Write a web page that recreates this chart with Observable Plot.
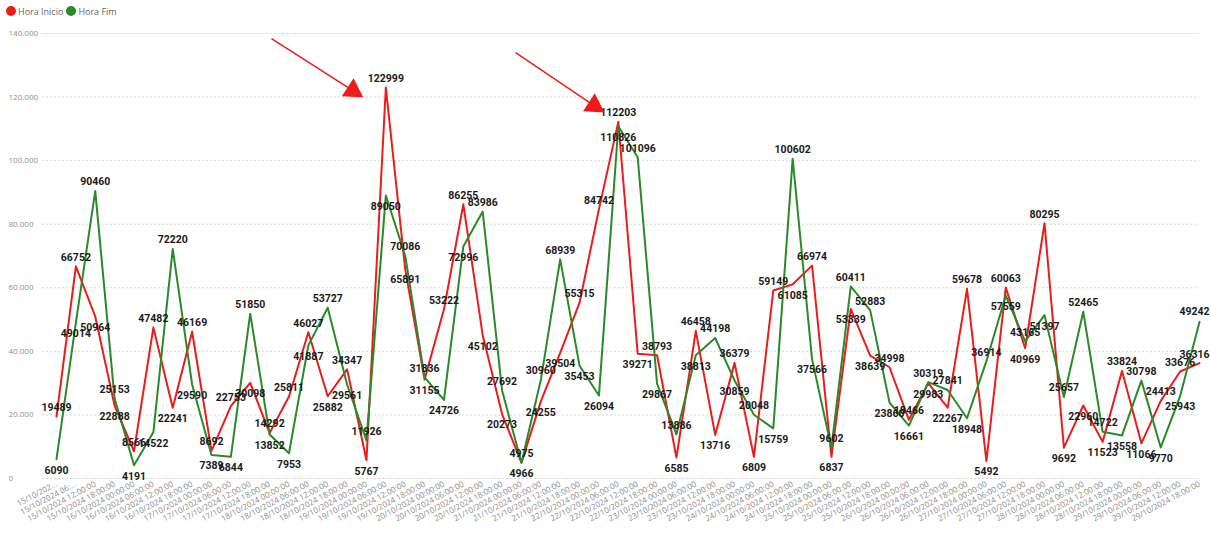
<!DOCTYPE html>
<html><head><meta charset="utf-8">
<script src="https://cdn.jsdelivr.net/npm/d3@7"></script>
<script src="https://cdn.jsdelivr.net/npm/@observablehq/plot@0.6"></script>
<style>
body{margin:0;background:#fff;font-family:"Open Sans",sans-serif;}
#legend{height:22px;display:flex;align-items:center;padding-left:6px;font-size:9px;color:#666;}
.item{display:flex;align-items:center;margin-right:3px}
.sw{width:10px;height:10px;border-radius:50%;margin-right:2px}
</style></head><body>
<div id="legend"></div><div id="chart"></div>
<script>
const days = ["15/10/2024","16/10/2024","17/10/2024","18/10/2024","19/10/2024","20/10/2024","21/10/2024","22/10/2024","23/10/2024","24/10/2024","25/10/2024","26/10/2024","27/10/2024","28/10/2024","29/10/2024"];
const hours = ["00:00:00","06:00:00","12:00:00","18:00:00"];
const series = ["Hora Inicio","Hora Fim"];
const colors = ["#ee1b1b","#2a8a2a"];
const horaInicio = [19489,66752,50964,22888,8566,47482,22241,46169,8692,22753,30098,14292,25811,46027,25882,34347,5767,122999,65891,31155,53222,86255,45102,20273,4975,24255,39504,55315,84742,112203,39271,38793,6585,46458,13716,36379,6809,59149,61085,66974,6837,53339,38639,34998,18466,29983,22267,59678,5492,60063,40969,80295,9692,22960,11523,33824,11066,24413,33676,36316];
const horaFim = [6090,49014,90460,25153,4191,14522,72220,29590,7389,6844,51850,13852,7953,41887,53727,29561,11926,89050,70086,31836,24726,72996,83986,27692,4966,30960,68939,35453,26094,110826,101096,29867,13886,38813,44198,30859,20048,15759,100602,37566,9602,60411,52883,23860,16661,30319,27841,18948,36914,57559,43165,51397,25657,52465,14722,13558,30798,9770,25943,49242];
const yTicks = [0,20000,40000,60000,80000,100000,120000,140000];
// annotation arrows (data coordinates: index, value)
const arrowStart = [[11.1,138400],[23.7,134000]];
const arrowHead = [[15.3,122000],[27.75,117300]];

const xLabels = days.flatMap(d => hours.map(h => d + " " + h));
xLabels[0] = "15/10/202...";
xLabels[1] = "15/10/2024 06:...";

const legend = document.getElementById("legend");
series.forEach((s,k)=>{
  const it = document.createElement("div"); it.className="item";
  it.innerHTML = `<span class="sw" style="background:${colors[k]}"></span><span>${s}</span>`;
  legend.appendChild(it);
});

const idx = d3.range(horaInicio.length);
const last = idx.length - 1;
const rows = idx.flatMap(i => [
  {i, v: horaInicio[i], s: series[0], above: horaInicio[i] >= horaFim[i]},
  {i, v: horaFim[i], s: series[1], above: horaFim[i] > horaInicio[i]}
]);
const fmt = d3.formatLocale({decimal:",", thousands:".", grouping:[3], currency:["",""]}).format(",d");
const arrows = arrowStart.map((a,k)=>({x1:a[0], y1:a[1], x2:arrowHead[k][0], y2:arrowHead[k][1]}));

const labelStyle = {x:"i", y:"v", text: d => String(d.v), fill:"#1a1a1a", fontWeight:"bold", fontSize:10.5, fontFamily:"Roboto"};
const mid = rows.filter(d => d.i !== last);
const end = rows.filter(d => d.i === last);

const chart = Plot.plot({
  width:1211, height:519, marginTop:11, marginBottom:63, marginLeft:56, marginRight:12,
  x:{domain:[0, last]},
  y:{domain:[0,140000]},
  color:{domain:series, range:colors},
  style:{fontFamily:"Open Sans", background:"#fff"},
  marks:[
    Plot.gridY(yTicks,{stroke:"#d8d8d8", strokeOpacity:1, strokeDasharray:"2,2", insetLeft:-14}),
    Plot.axisY(yTicks,{tickSize:0, tickPadding:48, textAnchor:"start", tickFormat: fmt, fontSize:8, fill:"#8f8f8f"}),
    Plot.axisX(idx,{tickSize:0, tickPadding:5, tickRotate:-28, tickFormat: i => xLabels[i], fontSize:8, fill:"#8a8a8a"}),
    Plot.line(rows,{x:"i", y:"v", stroke:"s", z:"s", strokeWidth:2}),
    Plot.text(mid.filter(d=>d.above), {...labelStyle, dy:-9}),
    Plot.text(mid.filter(d=>!d.above), {...labelStyle, dy:11}),
    Plot.text(end.filter(d=>d.above), {...labelStyle, dy:-10, dx:10, textAnchor:"end"}),
    Plot.text(end.filter(d=>!d.above), {...labelStyle, dy:-8, dx:10, textAnchor:"end"}),
    Plot.link(arrows,{x1:"x1", y1:"y1", x2:"x2", y2:"y2", stroke:"#ee1b1b", strokeWidth:1.5}),
    Plot.dot(arrows,{x:"x2", y:"y2", symbol:"triangle", r:8, fill:"#ee1b1b", stroke:"none", rotate:123})
  ]
});
document.getElementById("chart").appendChild(chart);
</script>
</body></html>
